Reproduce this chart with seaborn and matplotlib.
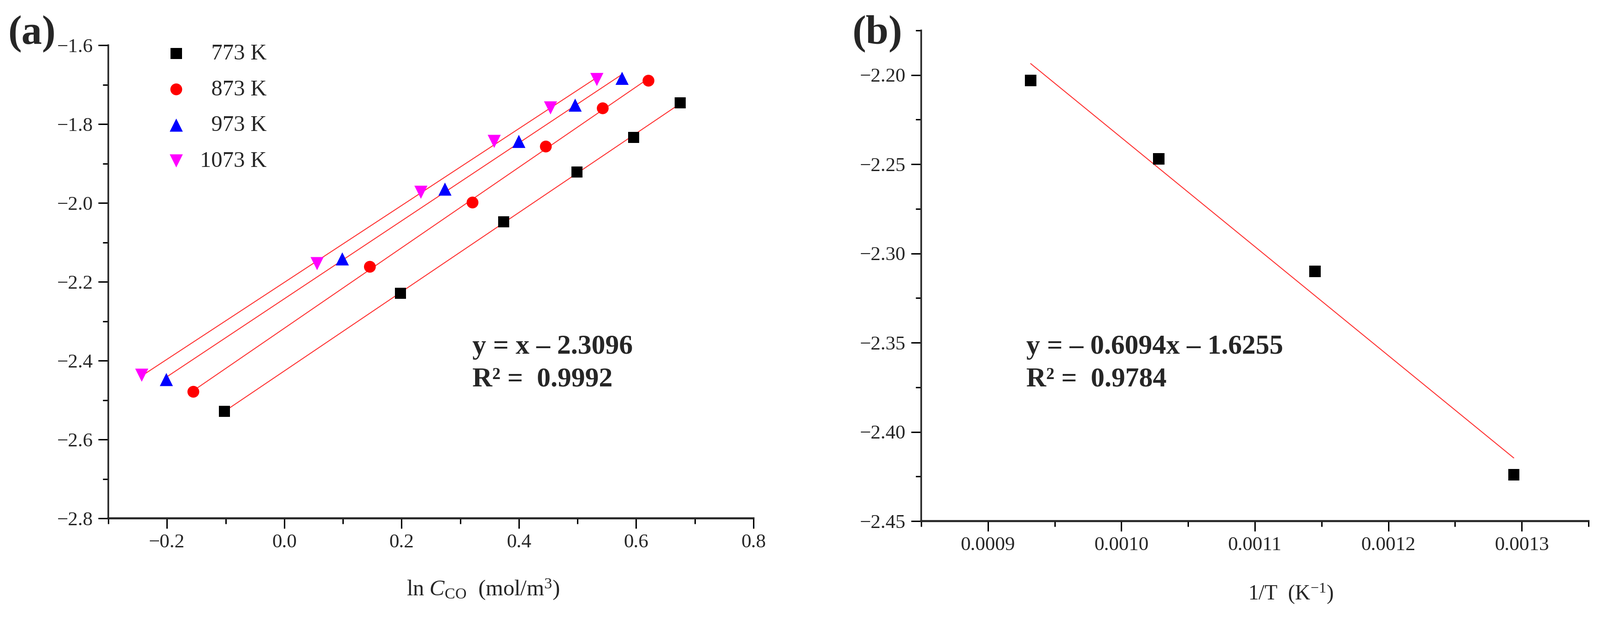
import numpy as np
import pandas as pd
import seaborn as sns
import matplotlib.pyplot as plt
from matplotlib.ticker import MultipleLocator, FuncFormatter

# ---- data ----
# (a) ln r vs ln C_CO at four temperatures
temps = ['773 K', '873 K', '973 K', '1073 K']
lnC_773 = [-0.102, 0.198, 0.374, 0.499, 0.596, 0.675]
lnr_773 = [-2.529, -2.229, -2.048, -1.922, -1.834, -1.746]
lnC_873 = [-0.155, 0.146, 0.321, 0.446, 0.543, 0.621]
lnr_873 = [-2.479, -2.162, -1.999, -1.857, -1.760, -1.690]
lnC_973 = [-0.201, 0.099, 0.274, 0.400, 0.496, 0.576]
lnr_973 = [-2.448, -2.142, -1.965, -1.844, -1.752, -1.684]
lnC_1073 = [-0.243, 0.056, 0.233, 0.358, 0.454, 0.533]
lnr_1073 = [-2.437, -2.154, -1.973, -1.844, -1.759, -1.687]

# (b) Arrhenius-type plot
inv_T = [0.000932, 0.001028, 0.001145, 0.001294]
ln_k = [-2.203, -2.247, -2.310, -2.424]

eq_a = ["y = x \u2013 2.3096", "R\u00b2 =  0.9992"]
eq_b = ["y = \u2013 0.6094x \u2013 1.6255", "R\u00b2 =  0.9784"]

# ---- style ----
sns.set_theme(style="ticks")
plt.rcParams['font.family'] = ['Liberation Serif', 'DejaVu Serif']
plt.rcParams['mathtext.fontset'] = 'custom'
plt.rcParams['mathtext.rm'] = 'Liberation Serif'
plt.rcParams['mathtext.it'] = 'Liberation Serif:italic'
plt.rcParams['mathtext.bf'] = 'Liberation Serif:bold'

W, H = 3472, 1338
fig = plt.figure(figsize=(W / 100, H / 100), dpi=100)
fig.patch.set_facecolor('white')

ax1 = fig.add_axes([235 / W, 1 - 1124 / H, 1400 / W, 1026 / H])
ax2 = fig.add_axes([1999 / W, 1 - 1130 / H, 1448 / W, 1064 / H])

series = [
    (lnC_773, lnr_773, 's', 'black', 300),
    (lnC_873, lnr_873, 'o', 'red', 340),
    (lnC_973, lnr_973, '^', 'blue', 420),
    (lnC_1073, lnr_1073, 'v', 'magenta', 420),
]
# figure spaces pad the short labels so the legend text lines up on the right
leg_labels = ['\u2007' + t if len(t) == 5 else t for t in temps]

for (xs, ys, mk, col, sz), lab in zip(series, leg_labels):
    sns.regplot(x=xs, y=ys, ax=ax1, scatter=False, ci=None, truncate=True,
                line_kws=dict(color='#ff2a2a', lw=1.4, zorder=2))
    sns.scatterplot(x=xs, y=ys, ax=ax1, marker=mk, color=col, s=sz,
                    edgecolor='none', linewidth=0, label=lab, zorder=3)

sns.regplot(x=inv_T, y=ln_k, ax=ax2, scatter=False, ci=None, truncate=True,
            line_kws=dict(color='#ff2a2a', lw=1.4, zorder=2))
sns.scatterplot(x=inv_T, y=ln_k, ax=ax2, marker='s', color='black', s=310,
                edgecolor='none', linewidth=0, legend=False, zorder=3)

leg = ax1.legend(loc='upper left', bbox_to_anchor=(0.088, 1.003), frameon=False,
                 fontsize=35, handlelength=1.0, handletextpad=0.55,
                 labelspacing=0.69, borderpad=0, borderaxespad=0,
                 scatterpoints=1)

# ---- axes ----
ax1.set_xlim(-0.3, 0.8)
ax1.set_ylim(-2.8, -1.6)
ax1.xaxis.set_major_locator(MultipleLocator(0.2))
ax1.xaxis.set_minor_locator(MultipleLocator(0.1))
ax1.yaxis.set_major_locator(MultipleLocator(0.2))
ax1.yaxis.set_minor_locator(MultipleLocator(0.1))
fmt1 = FuncFormatter(lambda v, p: f"{v:.1f}".replace('-', '\u2212'))
ax1.xaxis.set_major_formatter(fmt1)
ax1.yaxis.set_major_formatter(fmt1)

ax2.set_xlim(0.00085, 0.00135)
ax2.set_ylim(-2.45, -2.175)
ax2.xaxis.set_major_locator(MultipleLocator(0.0001))
ax2.xaxis.set_minor_locator(MultipleLocator(0.00005))
ax2.yaxis.set_major_locator(MultipleLocator(0.05))
ax2.yaxis.set_minor_locator(MultipleLocator(0.025))
ax2.xaxis.set_major_formatter(FuncFormatter(lambda v, p: f"{v:.4f}"))
ax2.yaxis.set_major_formatter(FuncFormatter(lambda v, p: f"{v:.2f}".replace('-', '\u2212')))

for ax in (ax1, ax2):
    ax.set_facecolor('white')
    sns.despine(ax=ax)
    ax.spines['left'].set_linewidth(2.6)
    ax.spines['bottom'].set_linewidth(3.2)
    ax.tick_params(which='major', direction='out', length=16, width=2.2,
                   labelsize=31, pad=8, color='black')
    ax.tick_params(which='minor', direction='out', length=8.5, width=2.2,
                   color='black')
    ax.grid(False)

ax1.set_xlabel(r"ln $C_{\mathrm{CO}}$  (mol/m$^3$)", fontsize=35, labelpad=22)
ax1.xaxis.set_label_coords(0.581, -0.125)
ax2.set_xlabel(r"1/T  (K$^{-1}$)", fontsize=33, labelpad=22)
ax2.xaxis.set_label_coords(0.554, -0.125)

# regression equations
for ax, lines, x0 in ((ax1, eq_a, 1025), (ax2, eq_b, 2227)):
    for i, s in enumerate(lines):
        fig.text(x0 / W, 1 - (767 + 70 * i) / H, s, fontsize=43,
                 fontweight='bold', ha='left', va='baseline')

fig.text(17 / W, 1 - 95 / H, "(a)", fontsize=64, fontweight='bold',
         ha='left', va='baseline')
fig.text(1849 / W, 1 - 94 / H, "(b)", fontsize=64, fontweight='bold',
         ha='left', va='baseline')

fig.savefig('out.png', dpi=100, facecolor='white')
